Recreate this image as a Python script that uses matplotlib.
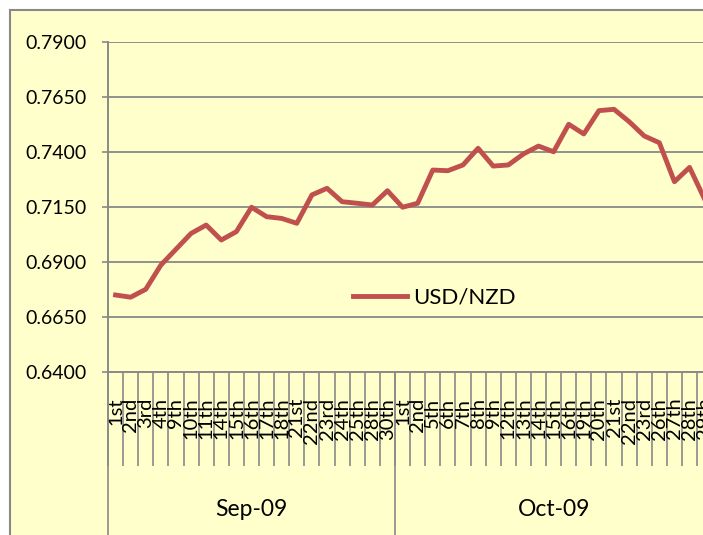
import matplotlib
matplotlib.use("Agg")
import matplotlib.pyplot as plt
from matplotlib.patches import Rectangle
import matplotlib.transforms as mtransforms

plt.rcParams['font.family'] = ['Lato', 'DejaVu Sans']

# Daily USD/NZD readings, grouped by month
months = ["Sep-09", "Oct-09"]
sep_days = ["1st", "2nd", "3rd", "4th", "9th", "10th", "11th", "14th", "15th", "16th",
            "17th", "18th", "21st", "22nd", "23rd", "24th", "25th", "28th", "30th"]
sep_vals = [0.6750, 0.6740, 0.6776, 0.6886, 0.6958, 0.7030, 0.7068, 0.7000, 0.7038, 0.7149,
            0.7106, 0.7098, 0.7076, 0.7205, 0.7235, 0.7174, 0.7167, 0.7159, 0.7224]
oct_days = ["1st", "2nd", "5th", "6th", "7th", "8th", "9th", "12th", "13th", "14th", "15th",
            "16th", "19th", "20th", "21st", "22nd", "23rd", "26th", "27th", "28th", "29th"]
oct_vals = [0.7149, 0.7167, 0.7318, 0.7315, 0.7341, 0.7417, 0.7336, 0.7341, 0.7391, 0.7427, 0.7401,
            0.7526, 0.7482, 0.7588, 0.7594, 0.7538, 0.7473, 0.7442, 0.7265, 0.7330, 0.7185]
y_ticks = [0.6400, 0.6650, 0.6900, 0.7150, 0.7400, 0.7650, 0.7900]

GRAY = '#898989'
BG = '#FFFFCC'
RED = '#C0504D'

day_labels = sep_days + oct_days
values = sep_vals + oct_vals
n = len(values)
xs = [i + 0.5 for i in range(n)]

W, H = 703, 535
fig = plt.figure(figsize=(W / 100, H / 100), dpi=100)
fig.patch.set_facecolor('white')

# chart area (extends past the right / bottom edge like the cropped original)
fig.patches.append(Rectangle((10 / W, -0.2), 1.5, (H - 10) / H + 0.2, transform=fig.transFigure,
                             facecolor=BG, edgecolor=GRAY, lw=1.5, zorder=-5))

cat_w = 287.0 / len(sep_days)
ax = fig.add_axes([108 / W, 163 / H, n * cat_w / W, 330 / H])
ax.set_facecolor('none')

ax.plot(xs, values, color=RED, lw=3.5, solid_joinstyle='round', label='USD/NZD', zorder=3)

ax.set_xlim(0, n)
ax.set_ylim(0.64, 0.79)
ax.set_yticks(y_ticks)
ax.set_yticklabels([f"{v:.4f}" for v in y_ticks])
ax.yaxis.grid(True, color=GRAY, lw=1.3)
ax.set_axisbelow(True)

for s in ['top', 'right']:
    ax.spines[s].set_visible(False)
for s in ['left', 'bottom']:
    ax.spines[s].set_color(GRAY)
    ax.spines[s].set_linewidth(1.4)

ax.tick_params(axis='y', length=4.3, width=1.2, color=GRAY, pad=11, labelsize=14)

# category boundaries as long ticks, day names centred between them
ax.set_xticks(range(n + 1))
ax.set_xticklabels([])
ax.tick_params(axis='x', which='major', length=68, width=1.2, color=GRAY, direction='out')
ax.set_xticks(xs, minor=True)
ax.set_xticklabels(day_labels, minor=True, rotation=90, fontsize=14.5)
ax.tick_params(axis='x', which='minor', length=0, pad=18.5)

# month separators and labels
trans = mtransforms.blended_transform_factory(ax.transData, ax.transAxes)
bounds = [0, len(sep_days), n]
ax.vlines(bounds, -0.7, 0, transform=trans, color=GRAY, lw=1.2, clip_on=False)
for m, a, b in zip(months, bounds[:-1], bounds[1:]):
    ax.text((a + b) / 2, -0.418, m, transform=trans, ha='center', va='center', fontsize=16.5)

ax.legend(loc='center left', bbox_to_anchor=(353 / W, 1 - 298 / H), bbox_transform=fig.transFigure,
          frameon=False, fontsize=16, handlelength=2.45, handletextpad=0.25, borderpad=0, borderaxespad=0)

fig.savefig('out.png', dpi=100)
